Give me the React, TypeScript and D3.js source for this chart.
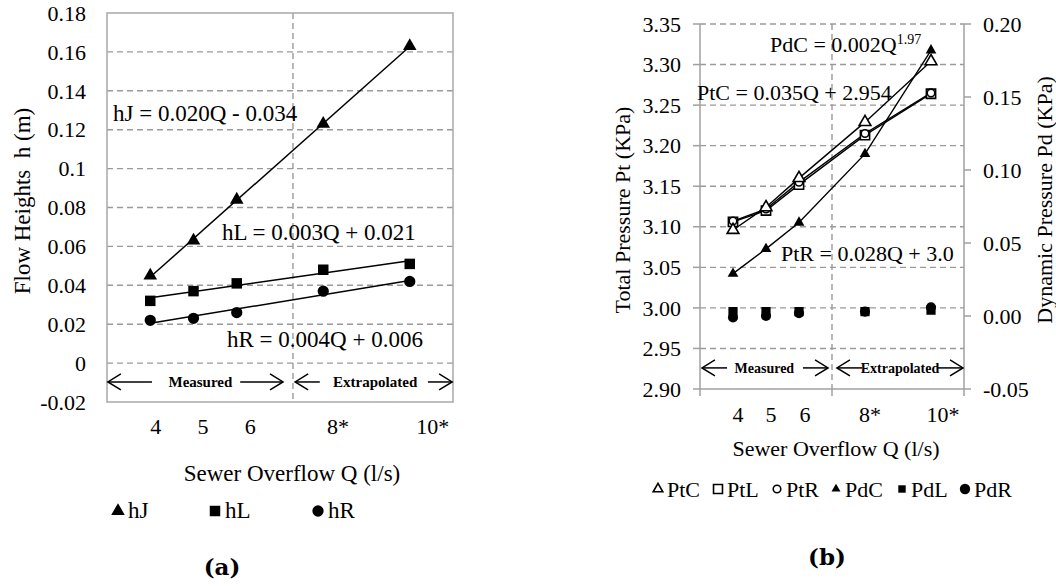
import React, { useEffect, useRef } from 'react';
import * as d3 from 'd3';

// shared x values and category labels
const qValues = [4, 5, 6, 8, 10];
const xLabels = ['4', '5', '6', '8*', '10*'];
const xLabelPosA = [4.13, 5.22, 6.31, 8.34, 10.53];
const xLabelPosB = [4.15, 5.15, 6.18, 8.15, 10.36];

// (a) flow heights
const hJ = [0.045, 0.063, 0.084, 0.123, 0.163];
const hL = [0.032, 0.037, 0.041, 0.048, 0.051];
const hR = [0.022, 0.023, 0.026, 0.037, 0.042];
const yTicksA = [-0.02, 0, 0.02, 0.04, 0.06, 0.08, 0.1, 0.12, 0.14, 0.16, 0.18];

// (b) pressures
const PtC = [3.096, 3.124, 3.160, 3.229, 3.304];
const PtL = [3.106, 3.120, 3.152, 3.213, 3.264];
const PtR = [3.107, 3.122, 3.155, 3.215, 3.265];
const PdC = [0.029, 0.046, 0.064, 0.111, 0.182];
const PdL = [0.003, 0.003, 0.003, 0.003, 0.004];
const PdR = [-0.001, 0.0, 0.002, 0.003, 0.006];
const ptTicks = [2.9, 2.95, 3.0, 3.05, 3.1, 3.15, 3.2, 3.25, 3.3, 3.35];
const pdTicks = [-0.05, 0, 0.05, 0.1, 0.15, 0.2];

const FONT = 'Liberation Serif, Times New Roman, serif';
const GRID = '#9a9a9a';

function regression(xs: number[], ys: number[]) {
  const mx = d3.mean(xs) as number;
  const my = d3.mean(ys) as number;
  let sxy = 0, sxx = 0;
  xs.forEach((x, i) => { sxy += (x - mx) * (ys[i] - my); sxx += (x - mx) * (x - mx); });
  const b = sxy / sxx;
  return (x: number) => my + b * (x - mx);
}

function arrow(g: any, xTip: number, xTail: number, y: number) {
  const dir = Math.sign(xTip - xTail);
  g.append('line').attr('x1', xTail).attr('x2', xTip).attr('y1', y).attr('y2', y)
    .attr('stroke', '#000').attr('stroke-width', 1.5);
  g.append('path').attr('d', `M${xTip - dir * 13},${y - 8}L${xTip},${y}L${xTip - dir * 13},${y + 8}`)
    .attr('fill', 'none').attr('stroke', '#000').attr('stroke-width', 1.5);
}

function marker(g: any, type: any, size: number, filled: boolean, x: number, y: number) {
  g.append('path').attr('d', d3.symbol(type, size)())
    .attr('transform', `translate(${x},${y})`)
    .attr('fill', filled ? '#000' : '#fff')
    .attr('stroke', '#000').attr('stroke-width', filled ? 0 : 1.6);
}

export default function App() {
  const ref = useRef<SVGSVGElement>(null);

  useEffect(() => {
    const svg = d3.select(ref.current);
    svg.selectAll('*').remove();
    svg.append('rect').attr('width', 1056).attr('height', 586).attr('fill', '#fff');

    // ---------- chart (a) ----------
    const a = svg.append('g').style('font-family', FONT);
    const xA = d3.scaleLinear().domain([3, 11]).range([107, 453]);
    const yA = d3.scaleLinear().domain([-0.02, 0.18]).range([402, 13]);

    a.selectAll('.gridA').data(yTicksA.slice(1, -1)).join('line')
      .attr('x1', 107).attr('x2', 453).attr('y1', d => yA(d)).attr('y2', d => yA(d))
      .attr('stroke', GRID).attr('stroke-width', 1.4).attr('stroke-dasharray', '6,4');
    a.append('line').attr('x1', xA(7.3)).attr('x2', xA(7.3)).attr('y1', 13).attr('y2', 402)
      .attr('stroke', GRID).attr('stroke-width', 1.4).attr('stroke-dasharray', '6,4');
    a.append('rect').attr('x', 107).attr('y', 13).attr('width', 346).attr('height', 389)
      .attr('fill', 'none').attr('stroke', '#a8a8a8').attr('stroke-width', 1.5);

    a.selectAll('.ytA').data(yTicksA).join('text')
      .attr('x', 86).attr('y', d => yA(d)).attr('dy', '0.35em')
      .attr('text-anchor', 'end').attr('font-size', 22)
      .text(d => String(+d.toFixed(2)));
    a.selectAll('.xtA').data(xLabels).join('text')
      .attr('x', (d, i) => xA(xLabelPosA[i])).attr('y', 434)
      .attr('text-anchor', 'middle').attr('font-size', 22).text(d => d);

    // trend lines + markers
    const seriesA = [
      { v: hJ, type: d3.symbolTriangle, size: 80 },
      { v: hL, type: d3.symbolSquare, size: 110 },
      { v: hR, type: d3.symbolCircle, size: 100 },
    ];
    seriesA.forEach(s => {
      const f = regression(qValues, s.v);
      a.append('line').attr('x1', xA(4)).attr('x2', xA(10))
        .attr('y1', yA(f(4))).attr('y2', yA(f(10)))
        .attr('stroke', '#000').attr('stroke-width', 1.5);
      s.v.forEach((v, i) => marker(a, s.type, s.size, true, xA(qValues[i]), yA(v)));
    });

    a.append('text').attr('x', 113).attr('y', 121).attr('font-size', 23).text('hJ = 0.020Q - 0.034');
    a.append('text').attr('x', 222).attr('y', 240).attr('font-size', 23).text('hL = 0.003Q + 0.021');
    a.append('text').attr('x', 227).attr('y', 347).attr('font-size', 23).text('hR = 0.004Q + 0.006');

    const yArrA = yA(-0.0097);
    arrow(a, xA(3.02), xA(4.04), yArrA);
    arrow(a, xA(7.07), xA(6.08), yArrA);
    arrow(a, xA(7.35), xA(7.92), yArrA);
    arrow(a, xA(10.98), xA(10.42), yArrA);
    a.append('text').attr('x', xA(5.16)).attr('y', yArrA + 5).attr('text-anchor', 'middle')
      .attr('font-size', 15).attr('font-weight', 'bold').text('Measured');
    a.append('text').attr('x', xA(9.2)).attr('y', yArrA + 5).attr('text-anchor', 'middle')
      .attr('font-size', 15).attr('font-weight', 'bold').text('Extrapolated');

    a.append('text').attr('transform', 'translate(30,201) rotate(-90)')
      .style('white-space', 'pre')
      .attr('text-anchor', 'middle').attr('font-size', 23).text('Flow Heights  h (m)');
    a.append('text').attr('x', 292).attr('y', 481).attr('text-anchor', 'middle')
      .attr('font-size', 23).text('Sewer Overflow Q (l/s)');

    const legA = [
      { name: 'hJ', type: d3.symbolTriangle, size: 80, x: 118 },
      { name: 'hL', type: d3.symbolSquare, size: 110, x: 215 },
      { name: 'hR', type: d3.symbolCircle, size: 100, x: 318 },
    ];
    legA.forEach(l => {
      marker(a, l.type, l.size, true, l.x, 511);
      a.append('text').attr('x', l.x + 10).attr('y', 518).attr('font-size', 23).text(l.name);
    });
    svg.append('text').attr('x', 222).attr('y', 575).attr('text-anchor', 'middle')
      .attr('font-family', 'DejaVu Serif, serif').attr('font-weight', 'bold')
      .attr('font-size', 23).text('(a)');

    // ---------- chart (b) ----------
    const b = svg.append('g').style('font-family', FONT);
    const xB = d3.scaleLinear().domain([3, 11]).range([700, 964]);
    const yB = d3.scaleLinear().domain([2.9, 3.35]).range([389, 24]);
    const yB2 = d3.scaleLinear().domain([-0.05, 0.2]).range([389, 24]);

    b.selectAll('.gridB').data(ptTicks.slice(1)).join('line')
      .attr('x1', 700).attr('x2', 964).attr('y1', d => yB(d)).attr('y2', d => yB(d))
      .attr('stroke', GRID).attr('stroke-width', 1.4).attr('stroke-dasharray', '6,4');
    b.append('line').attr('x1', xB(7)).attr('x2', xB(7)).attr('y1', 24).attr('y2', 389)
      .attr('stroke', GRID).attr('stroke-width', 1.4).attr('stroke-dasharray', '6,4');

    const axisC = '#a0a0a0';
    b.append('line').attr('x1', 700).attr('x2', 700).attr('y1', 24).attr('y2', 389).attr('stroke', axisC).attr('stroke-width', 1.5);
    b.append('line').attr('x1', 964).attr('x2', 964).attr('y1', 24).attr('y2', 389).attr('stroke', axisC).attr('stroke-width', 1.5);
    b.append('line').attr('x1', 700).attr('x2', 964).attr('y1', 389).attr('y2', 389).attr('stroke', axisC).attr('stroke-width', 1.5);
    b.selectAll('.tkL').data(ptTicks).join('line')
      .attr('x1', 693).attr('x2', 700).attr('y1', d => yB(d)).attr('y2', d => yB(d))
      .attr('stroke', axisC).attr('stroke-width', 1.5);
    b.selectAll('.tkR').data(pdTicks).join('line')
      .attr('x1', 964).attr('x2', 971).attr('y1', d => yB2(d)).attr('y2', d => yB2(d))
      .attr('stroke', axisC).attr('stroke-width', 1.5);
    b.selectAll('.tkB').data([3, 7, 11]).join('line')
      .attr('x1', d => xB(d)).attr('x2', d => xB(d)).attr('y1', 389).attr('y2', 396)
      .attr('stroke', axisC).attr('stroke-width', 1.5);

    b.selectAll('.ytB').data(ptTicks).join('text')
      .attr('x', 681).attr('y', d => yB(d)).attr('dy', '0.35em')
      .attr('text-anchor', 'end').attr('font-size', 22).text(d => d.toFixed(2));
    b.selectAll('.ytB2').data(pdTicks).join('text')
      .attr('x', 983).attr('y', d => yB2(d)).attr('dy', '0.35em')
      .attr('font-size', 22).text(d => d.toFixed(2));
    b.selectAll('.xtB').data(xLabels).join('text')
      .attr('x', (d, i) => xB(xLabelPosB[i])).attr('y', 422)
      .attr('text-anchor', 'middle').attr('font-size', 22).text(d => d);

    const lineB = (scale: any) => d3.line<number>().x((d, i) => xB(qValues[i])).y(d => scale(d));
    [PtC, PtL, PtR].forEach(s => {
      b.append('path').attr('d', lineB(yB)(s)).attr('fill', 'none').attr('stroke', '#000').attr('stroke-width', 1.4);
    });
    b.append('path').attr('d', lineB(yB2)(PdC)).attr('fill', 'none').attr('stroke', '#000').attr('stroke-width', 1.4);

    PdL.forEach((v, i) => marker(b, d3.symbolSquare, 85, true, xB(qValues[i]), yB2(v)));
    PdR.forEach((v, i) => marker(b, d3.symbolCircle, 80, true, xB(qValues[i]), yB2(v)));
    PdC.forEach((v, i) => marker(b, d3.symbolTriangle, 50, true, xB(qValues[i]), yB2(v)));
    PtL.forEach((v, i) => marker(b, d3.symbolSquare, 85, false, xB(qValues[i]), yB(v)));
    PtR.forEach((v, i) => marker(b, d3.symbolCircle, 45, false, xB(qValues[i]), yB(v)));
    PtC.forEach((v, i) => marker(b, d3.symbolTriangle, 60, false, xB(qValues[i]), yB(v)));

    const pd = b.append('text').attr('x', 770).attr('y', 52).attr('font-size', 22);
    pd.append('tspan').text('PdC = 0.002Q');
    pd.append('tspan').attr('dy', -8).attr('font-size', 14).text('1.97');
    b.append('text').attr('x', 697).attr('y', 100).attr('font-size', 22).text('PtC = 0.035Q + 2.954');
    b.append('text').attr('x', 781).attr('y', 261).attr('font-size', 22).text('PtR = 0.028Q + 3.0');

    const yArrB = yB(2.926);
    arrow(b, xB(3.06), xB(3.82), yArrB);
    arrow(b, xB(6.88), xB(6.12), yArrB);
    arrow(b, xB(7.15), xB(7.91), yArrB);
    arrow(b, xB(10.97), xB(10.21), yArrB);
    b.append('text').attr('x', xB(4.95)).attr('y', yArrB + 5).attr('text-anchor', 'middle')
      .attr('font-size', 14).attr('font-weight', 'bold').text('Measured');
    b.append('text').attr('x', xB(9.06)).attr('y', yArrB + 5).attr('text-anchor', 'middle')
      .attr('font-size', 14).attr('font-weight', 'bold').text('Extrapolated');

    b.append('text').attr('transform', 'translate(630,210) rotate(-90)')
      .attr('text-anchor', 'middle').attr('font-size', 22).text('Total Pressure Pt (KPa)');
    b.append('text').attr('transform', 'translate(1052,200) rotate(-90)')
      .attr('text-anchor', 'middle').attr('font-size', 22).text('Dynamic Pressure Pd (KPa)');
    b.append('text').attr('x', 836).attr('y', 456).attr('text-anchor', 'middle')
      .attr('font-size', 22).text('Sewer Overflow Q (l/s)');

    const legB = [
      { name: 'PtC', type: d3.symbolTriangle, size: 40, filled: false, x: 658 },
      { name: 'PtL', type: d3.symbolSquare, size: 80, filled: false, x: 718 },
      { name: 'PtR', type: d3.symbolCircle, size: 45, filled: false, x: 777 },
      { name: 'PdC', type: d3.symbolTriangle, size: 35, filled: true, x: 836 },
      { name: 'PdL', type: d3.symbolSquare, size: 55, filled: true, x: 902 },
      { name: 'PdR', type: d3.symbolCircle, size: 85, filled: true, x: 965 },
    ];
    legB.forEach(l => {
      marker(b, l.type, l.size, l.filled, l.x, 489);
      b.append('text').attr('x', l.x + 9).attr('y', 497).attr('font-size', 22).text(l.name);
    });
    svg.append('text').attr('x', 827).attr('y', 565).attr('text-anchor', 'middle')
      .attr('font-family', 'DejaVu Serif, serif').attr('font-weight', 'bold')
      .attr('font-size', 23).text('(b)');
  }, []);

  return (
    <svg ref={ref} width={1056} height={586}
      style={{ position: 'absolute', left: 0, top: 0, display: 'block' }} />
  );
}
